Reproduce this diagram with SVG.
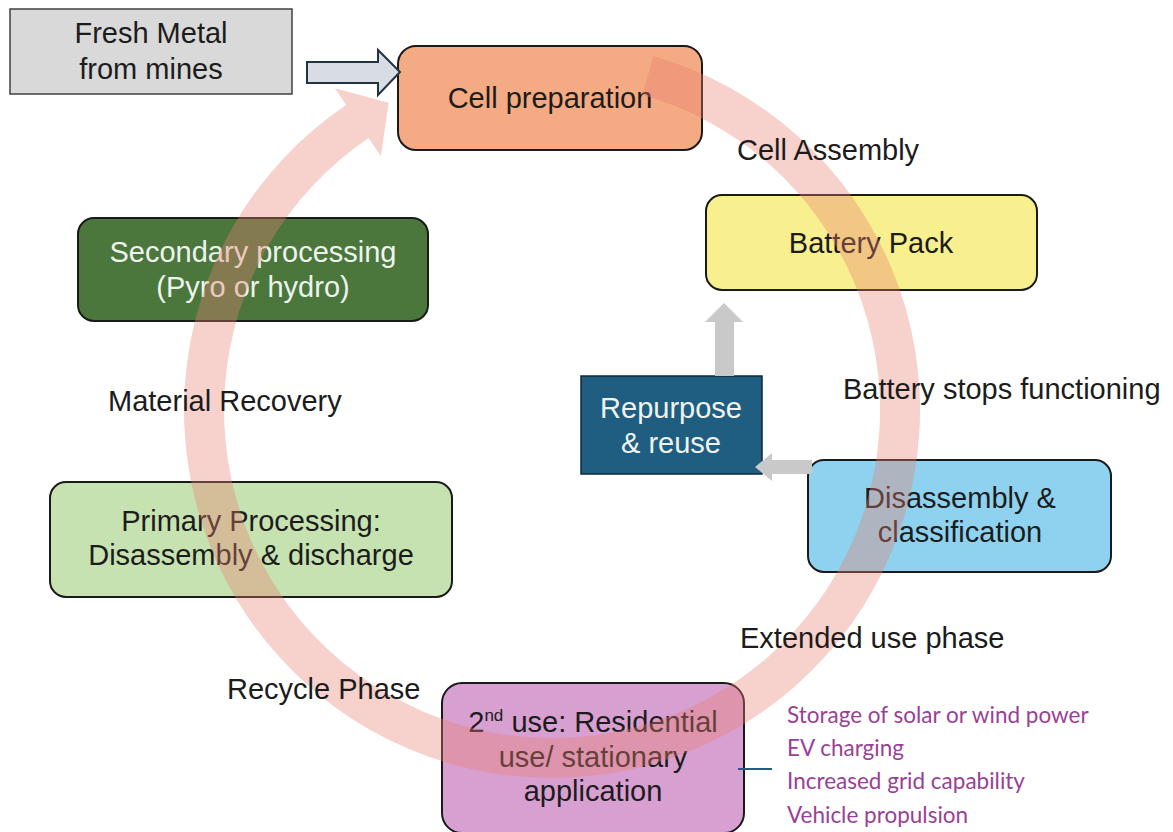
<svg xmlns="http://www.w3.org/2000/svg" width="1173" height="832" viewBox="0 0 1173 832">
  <style>
    .box { stroke: #1a1a1a; stroke-width: 2; }
    .t { font-family: "Liberation Sans", Arial, sans-serif; font-size: 29px; fill: #1c1c1c; text-anchor: middle; }
    .lbl { font-family: "Liberation Sans", Arial, sans-serif; font-size: 29px; fill: #1c1c1c; }
    .light { fill: #eef3ee; }
    .use { font-family: Lato, "Liberation Sans", sans-serif; font-size: 22.5px; fill: #9a3f96; }
    .grey-arrow { fill: #c9c9c9; }
  </style>

  <rect width="1173" height="832" fill="#ffffff"/>

  <!-- process boxes -->
  <g id="fresh-metal">
    <rect x="10" y="9" width="282" height="85" fill="#d9d9d9" stroke="#404040" stroke-width="1.5"/>
    <text class="t" x="151" y="43">Fresh Metal</text>
    <text class="t" x="151" y="79">from mines</text>
  </g>

  <g id="cell-preparation">
    <rect class="box" x="398" y="46" width="304" height="104" rx="18" fill="#f4aa82"/>
    <text class="t" x="550" y="108">Cell preparation</text>
  </g>

  <g id="battery-pack">
    <rect class="box" x="706" y="195" width="331" height="95" rx="16" fill="#f8f08f"/>
    <text class="t" x="871" y="253">Battery Pack</text>
  </g>

  <g id="repurpose-reuse">
    <rect x="581" y="376" width="181" height="98" fill="#1f5e80" stroke="#10293a" stroke-width="1.5"/>
    <text class="t light" x="671" y="418">Repurpose</text>
    <text class="t light" x="671" y="453">&amp; reuse</text>
  </g>

  <g id="disassembly-classification">
    <rect class="box" x="808" y="460" width="303" height="112" rx="16" fill="#8fd2f0"/>
    <text class="t" x="960" y="508">Disassembly &amp;</text>
    <text class="t" x="960" y="542">classification</text>
  </g>

  <g id="second-use">
    <rect class="box" x="442" y="683" width="302" height="150" rx="20" fill="#d8a0d0"/>
    <text class="t" x="593" y="732">2<tspan font-size="17" dy="-11">nd</tspan><tspan dy="11"> use: Residential</tspan></text>
    <text class="t" x="593" y="767">use/ stationary</text>
    <text class="t" x="593" y="801">application</text>
  </g>

  <g id="primary-processing">
    <rect class="box" x="50" y="482" width="402" height="115" rx="16" fill="#c7e2b1"/>
    <text class="t" x="251" y="531">Primary Processing:</text>
    <text class="t" x="251" y="565">Disassembly &amp; discharge</text>
  </g>

  <g id="secondary-processing">
    <rect class="box" x="78" y="218" width="350" height="103" rx="16" fill="#4b773d"/>
    <text class="t light" x="253" y="262">Secondary processing</text>
    <text class="t light" x="253" y="297">(Pyro or hydro)</text>
  </g>

  <!-- connectors -->
  <g id="connectors">
    <!-- supply arrow into cell preparation -->
    <path d="M307,62 H378 V50 L400,72 L378,95 V83 H307 Z" fill="#d8dde3" stroke="#1e3344" stroke-width="2" stroke-linejoin="miter"/>
    <!-- repurpose back to battery pack -->
    <path class="grey-arrow" d="M715,376 V322 H705 L724,303 L743,322 H734 V376 Z"/>
    <!-- disassembly to repurpose -->
    <path class="grey-arrow" d="M812,460 V474 H772 V481 L755,467 L772,453 V460 Z"/>
    <!-- second use to its applications -->
    <line x1="738" y1="769" x2="772" y2="769" stroke="#1f5e80" stroke-width="2"/>
    <!-- life-cycle ring, clockwise from cell preparation -->
    <path d="M653.4,56.2 A368,368 0 1 1 346.2,104.9 L335.0,88.3 L388.6,102.7 L380.9,156.3 L368.6,138.1 A328,328 0 1 0 642.4,94.7 Z" fill="#e8806f" fill-opacity="0.36"/>
  </g>

  <!-- phase labels -->
  <g id="labels">
    <text class="lbl" x="737" y="160">Cell Assembly</text>
    <text class="lbl" x="843" y="399">Battery stops functioning</text>
    <text class="lbl" x="108" y="411">Material Recovery</text>
    <text class="lbl" x="740" y="648">Extended use phase</text>
    <text class="lbl" x="227" y="699">Recycle Phase</text>
  </g>

  <g id="applications">
    <text class="use" x="787" y="723">Storage of solar or wind power</text>
    <text class="use" x="787" y="756">EV charging</text>
    <text class="use" x="787" y="789">Increased grid capability</text>
    <text class="use" x="787" y="823">Vehicle propulsion</text>
  </g>
</svg>
